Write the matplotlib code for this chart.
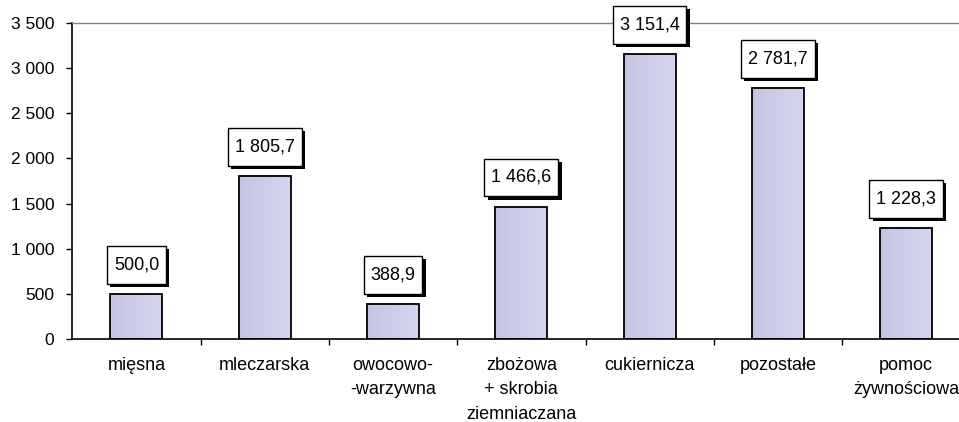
import numpy as np
import matplotlib.pyplot as plt
import matplotlib.patheffects as pe
from matplotlib.path import Path

plt.rcParams['font.family'] = ['Liberation Sans', 'DejaVu Sans']

# Dane
kategorie = ['mięsna', 'mleczarska', 'owocowo-\n-warzywna', 'zbożowa\n+ skrobia\nziemniaczana',
             'cukiernicza', 'pozostałe', 'pomoc\nżywnościowa']
wartosci = [500.0, 1805.7, 388.9, 1466.6, 3151.4, 2781.7, 1228.3]
yticks = [0, 500, 1000, 1500, 2000, 2500, 3000, 3500]


def pl_format(v, dec=1):
    s = f'{v:,.{dec}f}'
    return s.replace(',', ' ').replace('.', ',')


def ramka(x0, y0, width, height, mutation_size):
    # prostokąt z większym marginesem w pionie niż w poziomie
    px = 0.38 * mutation_size
    py = 0.58 * mutation_size
    x0, x1 = x0 - px, x0 + width + px
    y0, y1 = y0 - py, y0 + height + py
    return Path([(x0, y0), (x1, y0), (x1, y1), (x0, y1), (x0, y0)], closed=True)


fig = plt.figure(figsize=(9.59, 4.22), dpi=100)
ax = fig.add_axes([0.0754, 0.196, 0.9365, 0.750])

x = np.arange(len(kategorie))
bars = ax.bar(x, wartosci, width=0.405, facecolor='none', edgecolor='black',
              linewidth=1.3, zorder=3)

# gradient wypełnienia słupków
grad = np.linspace(0, 1, 64).reshape(1, -1)
c0 = np.array([0.75, 0.75, 0.88])
c1 = np.array([0.83, 0.83, 0.93])
img = c0 + (c1 - c0) * np.sqrt(grad)[..., None]
for b in bars:
    ax.imshow(img, extent=(b.get_x(), b.get_x() + b.get_width(), 0, b.get_height()),
              aspect='auto', zorder=2, interpolation='bilinear')

# etykiety wartości w ramkach z cieniem
for xi, v in zip(x, wartosci):
    t = ax.annotate(pl_format(v), xy=(xi, v), xytext=(0, 21), textcoords='offset points',
                    ha='center', va='center', fontsize=13, zorder=5,
                    bbox=dict(boxstyle=ramka, facecolor='white',
                              edgecolor='black', linewidth=1.0))
    t.get_bbox_patch().set_path_effects([
        pe.SimplePatchShadow(offset=(2.3, -2.3), shadow_rgbFace='black', alpha=1.0),
        pe.Normal()])

ax.set_xlim(-0.5, len(kategorie) - 0.5)
ax.set_ylim(0, 3500)

ax.set_yticks(yticks)
ax.set_yticklabels([pl_format(v, 0) for v in yticks])
ax.set_xticks(x)
ax.set_xticklabels(kategorie, linespacing=1.55)
ax.set_xticks(np.arange(0.5, len(kategorie) - 0.5, 1), minor=True)

ax.tick_params(axis='y', direction='out', length=4, width=1, pad=9, labelsize=12.5)
ax.tick_params(axis='x', which='major', length=0, pad=13, labelsize=13)
ax.tick_params(axis='x', which='minor', direction='out', length=4, width=1)

ax.spines['left'].set_linewidth(1.2)
ax.spines['bottom'].set_linewidth(1.2)
ax.spines['top'].set_color('#808080')
ax.spines['top'].set_linewidth(1.0)
ax.spines['right'].set_visible(False)

plt.savefig('out.png', dpi=100)
